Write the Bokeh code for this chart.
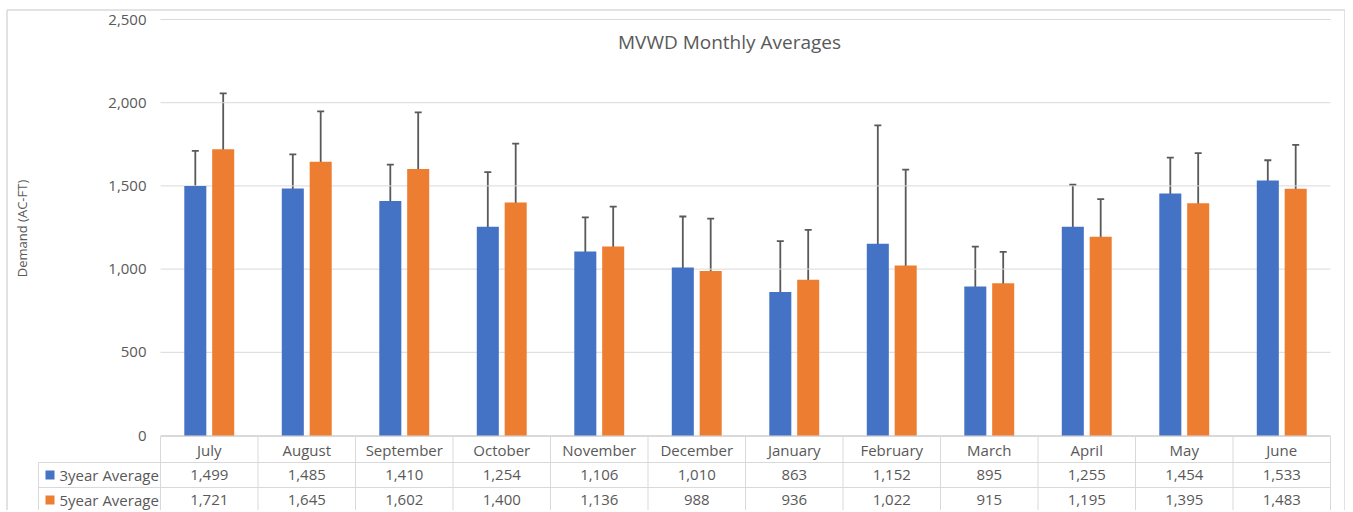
from math import pi
from bokeh.plotting import figure
from bokeh.models import ColumnDataSource, Whisker, TeeHead, Range1d
from bokeh.core.properties import value
from bokeh.embed import file_html
from bokeh.resources import INLINE

# ---------------- data ----------------
months = ["July", "August", "September", "October", "November", "December",
          "January", "February", "March", "April", "May", "June"]
avg3 = [1499, 1485, 1410, 1254, 1106, 1010, 863, 1152, 895, 1255, 1454, 1533]
avg5 = [1721, 1645, 1602, 1400, 1136, 988, 936, 1022, 915, 1195, 1395, 1483]
err3 = [212, 205, 218, 329, 205, 306, 305, 712, 240, 252, 216, 121]
err5 = [335, 303, 340, 354, 239, 315, 300, 576, 188, 225, 302, 264]
series = ["3year Average", "5year Average"]
colors = ["#4472C4", "#ED7D31"]
y_ticks = [0, 500, 1000, 1500, 2000, 2500]
title_text = "MVWD Monthly Averages"
y_label = "Demand (AC-FT)"

# ---------------- layout helpers (picture pixels -> data) ----------------
X0_PX, CAT_PX = 160.0, 97.5          # left of plot area, px per category
Y0_PX, UNIT_PX = 435.0, 416.0 / 2500  # baseline px, px per demand unit


def xd(px):
    return (px - X0_PX) / CAT_PX


def yd(py):
    return (Y0_PX - py) / UNIT_PX


W, H = 1345, 510
p = figure(width=W, height=H, output_backend="svg", toolbar_location=None,
           x_axis_type=None, y_axis_type=None, min_border=0,
           x_range=Range1d(xd(0), xd(W)), y_range=Range1d(yd(H), yd(0)))
p.outline_line_color = None
p.background_fill_color = "white"
p.border_fill_color = "white"
p.grid.visible = False

TXT = "#595959"
FONT = value("Open Sans")
GRID = "#d9d9d9"
n = len(months)
cx = [i + 0.5 for i in range(n)]
off, bw = 0.143, 0.226

# outer chart border
p.segment(x0=[xd(6.5), xd(6.5), xd(1344.5)], x1=[xd(1344.5), xd(6.5), xd(1344.5)],
          y0=[yd(9.5), yd(9.5), yd(9.5)], y1=[yd(9.5), yd(H + 10), yd(H + 10)],
          line_color=GRID, line_width=1.5)

# gridlines
p.segment(x0=[0] * len(y_ticks), x1=[n] * len(y_ticks), y0=y_ticks, y1=y_ticks,
          line_color=GRID, line_width=1)

# bars + error bars
for k, (vals, errs, col) in enumerate([(avg3, err3, colors[0]), (avg5, err5, colors[1])]):
    xs = [c + (-off if k == 0 else off) for c in cx]
    src = ColumnDataSource(dict(x=xs, top=vals,
                                upper=[v + e for v, e in zip(vals, errs)],
                                lower=[v - e for v, e in zip(vals, errs)]))
    p.vbar(x="x", top="top", bottom=0, width=bw, source=src,
           fill_color=col, line_color=None)
    p.add_layout(Whisker(source=src, base="x", upper="upper", lower="lower",
                         line_color="#595959", line_width=1.8,
                         upper_head=TeeHead(size=7, line_color="#595959", line_width=1.8),
                         lower_head=TeeHead(size=7, line_color="#595959", line_width=1.8)))

# y tick labels
p.text(x=[xd(146)] * len(y_ticks), y=y_ticks, text=[f"{t:,}" for t in y_ticks],
       text_align="right", text_baseline="middle", text_font=FONT,
       text_font_size="15px", text_color=TXT)

# title
p.text(x=[xd(729)], y=[yd(41)], text=[title_text], text_align="center",
       text_baseline="middle", text_font=FONT, text_font_size="19px", text_color=TXT)

# y axis label
p.text(x=[xd(21)], y=[yd(228)], text=[y_label], angle=pi / 2, text_align="center",
       text_baseline="middle", text_font=FONT, text_font_size="13px", text_color=TXT)

# ---------------- data table ----------------
row_tops = [436, 462, 487, 512]
# horizontal lines
p.segment(x0=[0], x1=[n], y0=[yd(436)], y1=[yd(436)], line_color=GRID, line_width=1)
p.segment(x0=[xd(38)] * 3, x1=[n] * 3, y0=[yd(r) for r in row_tops[1:]],
          y1=[yd(r) for r in row_tops[1:]], line_color=GRID, line_width=1)
# vertical lines
p.segment(x0=list(range(n + 1)), x1=list(range(n + 1)), y0=[yd(436)] * (n + 1),
          y1=[yd(520)] * (n + 1), line_color=GRID, line_width=1)
p.segment(x0=[xd(38)], x1=[xd(38)], y0=[yd(462)], y1=[yd(520)], line_color=GRID, line_width=1)

# header
p.text(x=cx, y=[yd(449)] * n, text=months, text_align="center", text_baseline="middle",
       text_font=FONT, text_font_size="15px", text_color=TXT)
# rows
for r, vals in enumerate([avg3, avg5]):
    ymid = yd((row_tops[r + 1] + row_tops[r + 2]) / 2)
    p.text(x=cx, y=[ymid] * n, text=[f"{v:,}" for v in vals], text_align="center",
           text_baseline="middle", text_font=FONT, text_font_size="15px", text_color=TXT)
    p.scatter(x=[xd(49.5)], y=[ymid], marker="square", size=9,
              fill_color=colors[r], line_color=None)
    p.text(x=[xd(59)], y=[ymid], text=[series[r]], text_align="left",
           text_baseline="middle", text_font=FONT, text_font_size="15px", text_color=TXT)

open("out.html", "w").write(file_html(p, INLINE))
